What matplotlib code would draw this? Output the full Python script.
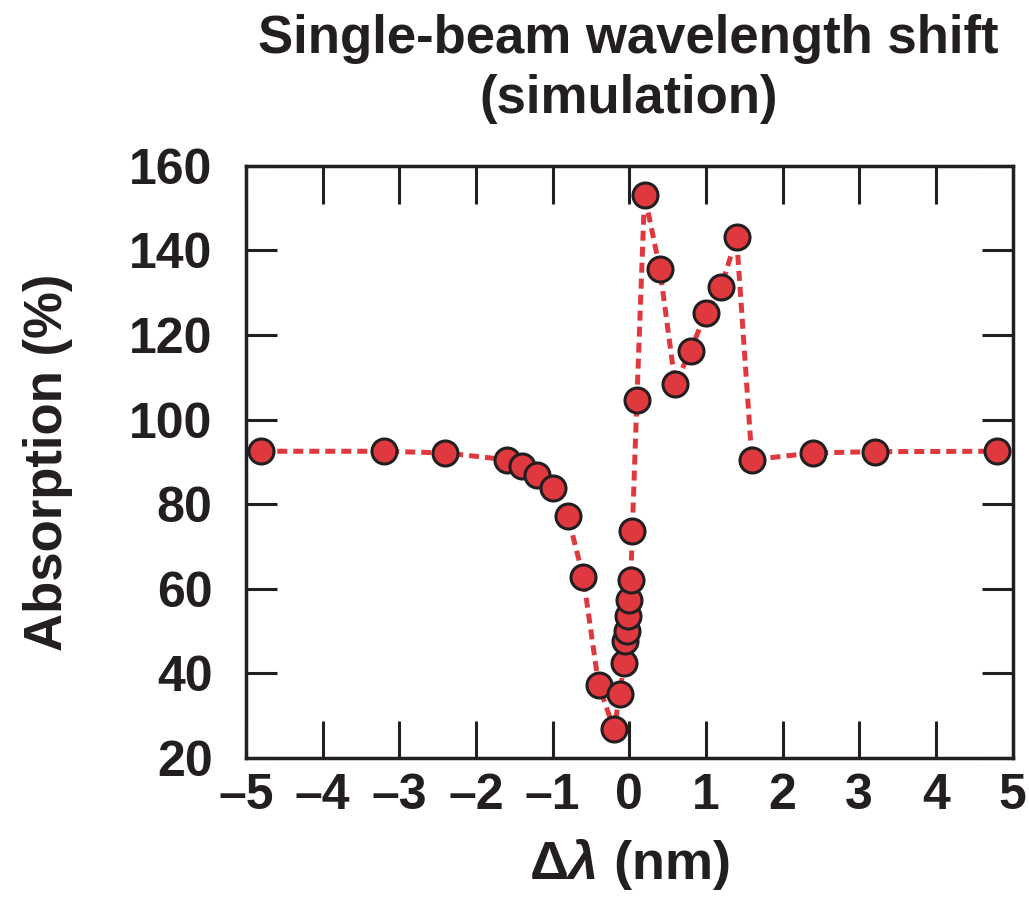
import matplotlib
matplotlib.use("Agg")
import matplotlib.pyplot as plt

plt.rcParams['font.family'] = ['Liberation Sans', 'DejaVu Sans']
plt.rcParams['mathtext.fontset'] = 'custom'
plt.rcParams['mathtext.rm'] = 'Liberation Sans:bold'
plt.rcParams['mathtext.bf'] = 'Liberation Sans:bold'
plt.rcParams['mathtext.it'] = 'Liberation Sans:bold:italic'

delta_lambda = [-4.8, -3.2, -2.4, -1.6, -1.4, -1.2, -1.0, -0.8, -0.6, -0.4, -0.2,
                -0.12, -0.07, -0.05, -0.03, -0.01, 0.0, 0.02, 0.04, 0.1, 0.2,
                0.4, 0.6, 0.8, 1.0, 1.2, 1.4, 1.6, 2.4, 3.2, 4.8]
absorption = [92.5, 92.5, 92.1, 90.5, 89.1, 87.0, 83.8, 77.1, 62.8, 37.3, 26.9,
              35.2, 42.4, 47.6, 50.1, 53.5, 57.4, 62.0, 73.7, 104.7, 153.1,
              135.5, 108.3, 116.3, 125.2, 131.3, 143.1, 90.5, 92.1, 92.4, 92.5]

x_ticks = [-5, -4, -3, -2, -1, 0, 1, 2, 3, 4, 5]
y_ticks = [20, 40, 60, 80, 100, 120, 140, 160]

fig = plt.figure(figsize=(10.29, 9.10), dpi=100)
ax = fig.add_axes([0.239, 0.167, 0.745, 0.651])

ax.plot(delta_lambda, absorption, linestyle=(0, (2.0, 1.2)), color='#e0383f',
        linewidth=3.6, marker='o', markersize=18, markerfacecolor='#e0383f',
        markeredgecolor='#231f20', markeredgewidth=2.2, zorder=3)

ax.set_xlim(-5, 5)
ax.set_ylim(20, 160)
ax.set_xticks(x_ticks)
ax.set_yticks(y_ticks)
ax.set_xticklabels([('\u2013' + str(abs(t))) if t < 0 else str(t) for t in x_ticks])
ax.tick_params(axis='both', direction='in', top=True, right=True, width=2.2,
               color='#231f20', labelsize=36, labelcolor='#231f20')
ax.tick_params(axis='x', length=27, pad=11)
ax.tick_params(axis='y', length=22, pad=24)
for lab in ax.get_xticklabels() + ax.get_yticklabels():
    lab.set_fontweight('bold')
for s in ax.spines.values():
    s.set_linewidth(2.5)
    s.set_color('#231f20')

ax.set_ylabel('Absorption (%)', fontsize=38, fontweight='bold', color='#231f20')
ax.yaxis.set_label_coords(-0.226, 0.5)
ax.set_xlabel(r'$\Delta\mathit{\lambda}$ (nm)', fontsize=39, fontweight='bold', color='#231f20', labelpad=12)
fig.text(0.611, 0.957, 'Single-beam wavelength shift', fontsize=38, fontweight='bold',
         color='#231f20', ha='center', va='center')
fig.text(0.611, 0.891, '(simulation)', fontsize=38, fontweight='bold',
         color='#231f20', ha='center', va='center')

fig.savefig('out.png', dpi=100)
